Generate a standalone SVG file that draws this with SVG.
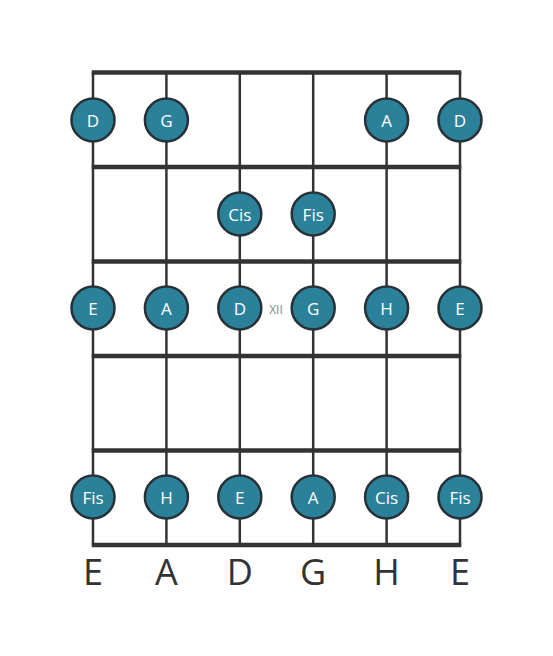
<svg xmlns="http://www.w3.org/2000/svg" width="553" height="656" viewBox="0 0 553 656">
<style>
.s{stroke:#333;stroke-width:2.5}
.f{stroke:#333;stroke-width:4.5}
.n circle{fill:#2a8199;stroke:#263238;stroke-width:2.5}
.n text{fill:#fff;font-family:"Open Sans",sans-serif;font-size:17px;text-anchor:middle;dominant-baseline:central}
.lbl{fill:#333;font-family:"Open Sans",sans-serif;font-size:36px;text-anchor:middle}
</style>
<rect width="553" height="656" fill="#fff"/>
<g id="connectors">
<line class="s" x1="93" y1="72" x2="93" y2="545"/>
<line class="s" x1="166.4" y1="72" x2="166.4" y2="545"/>
<line class="s" x1="239.8" y1="72" x2="239.8" y2="545"/>
<line class="s" x1="313.2" y1="72" x2="313.2" y2="545"/>
<line class="s" x1="386.6" y1="72" x2="386.6" y2="545"/>
<line class="s" x1="460" y1="72" x2="460" y2="545"/>
<line class="f" x1="91.75" y1="72.5" x2="461.25" y2="72.5"/>
<line class="f" x1="91.75" y1="167" x2="461.25" y2="167"/>
<line class="f" x1="91.75" y1="261.5" x2="461.25" y2="261.5"/>
<line class="f" x1="91.75" y1="356" x2="461.25" y2="356"/>
<line class="f" x1="91.75" y1="450.5" x2="461.25" y2="450.5"/>
<line class="f" x1="91.75" y1="545" x2="461.25" y2="545"/>
</g>
<text x="276" y="309" fill="#888" font-family="'Open Sans',sans-serif" font-size="12" text-anchor="middle" dominant-baseline="central">XII</text>
<g id="n1" class="n"><circle cx="93" cy="120" r="21.5"/><text x="93" y="120">D</text></g>
<g id="n2" class="n"><circle cx="166.4" cy="120" r="21.5"/><text x="166.4" y="120">G</text></g>
<g id="n3" class="n"><circle cx="386.6" cy="120" r="21.5"/><text x="386.6" y="120">A</text></g>
<g id="n4" class="n"><circle cx="460" cy="120" r="21.5"/><text x="460" y="120">D</text></g>
<g id="n5" class="n"><circle cx="239.8" cy="214" r="21.5"/><text x="239.8" y="214">Cis</text></g>
<g id="n6" class="n"><circle cx="313.2" cy="214" r="21.5"/><text x="313.2" y="214">Fis</text></g>
<g id="n7" class="n"><circle cx="93" cy="308" r="21.5"/><text x="93" y="308">E</text></g>
<g id="n8" class="n"><circle cx="166.4" cy="308" r="21.5"/><text x="166.4" y="308">A</text></g>
<g id="n9" class="n"><circle cx="239.8" cy="308" r="21.5"/><text x="239.8" y="308">D</text></g>
<g id="n10" class="n"><circle cx="313.2" cy="308" r="21.5"/><text x="313.2" y="308">G</text></g>
<g id="n11" class="n"><circle cx="386.6" cy="308" r="21.5"/><text x="386.6" y="308">H</text></g>
<g id="n12" class="n"><circle cx="460" cy="308" r="21.5"/><text x="460" y="308">E</text></g>
<g id="n13" class="n"><circle cx="93" cy="497" r="21.5"/><text x="93" y="497">Fis</text></g>
<g id="n14" class="n"><circle cx="166.4" cy="497" r="21.5"/><text x="166.4" y="497">H</text></g>
<g id="n15" class="n"><circle cx="239.8" cy="497" r="21.5"/><text x="239.8" y="497">E</text></g>
<g id="n16" class="n"><circle cx="313.2" cy="497" r="21.5"/><text x="313.2" y="497">A</text></g>
<g id="n17" class="n"><circle cx="386.6" cy="497" r="21.5"/><text x="386.6" y="497">Cis</text></g>
<g id="n18" class="n"><circle cx="460" cy="497" r="21.5"/><text x="460" y="497">Fis</text></g>
<g id="labels">
<text class="lbl" x="93" y="585">E</text>
<text class="lbl" x="166.4" y="585">A</text>
<text class="lbl" x="239.8" y="585">D</text>
<text class="lbl" x="313.2" y="585">G</text>
<text class="lbl" x="386.6" y="585">H</text>
<text class="lbl" x="460" y="585">E</text>
</g>
</svg>
